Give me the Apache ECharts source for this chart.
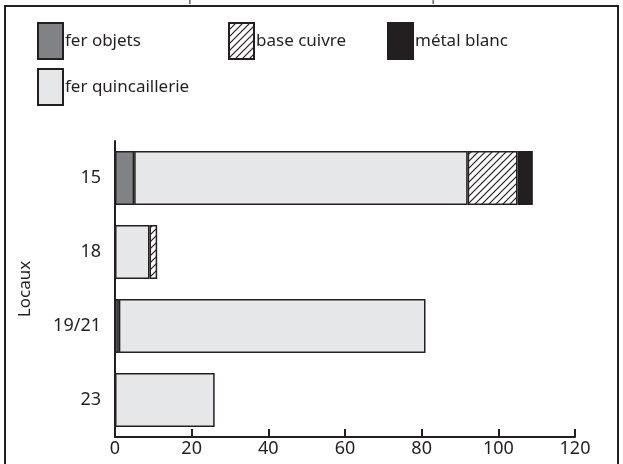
<!DOCTYPE html>
<html><head><meta charset="utf-8">
<script src="https://cdn.jsdelivr.net/npm/echarts@6/dist/echarts.min.js"></script>
<style>html,body{margin:0;padding:0;background:#fff}#c{width:623px;height:464px}</style>
</head><body><div id="c"></div>
<script>
const categories = ['15', '18', '19/21', '23'];
const ferObjets = [5, 0, 1, 0];
const ferQuincaillerie = [87, 9, 80, 26];
const baseCuivre = [13, 2, 0, 0];
const metalBlanc = [4, 0, 0, 0];
const xTicks = [0, 20, 40, 60, 80, 100, 120];
const title = 'Répartition du mobilier métallique';

function hatch() {
  const s = 7;
  const c = document.createElement('canvas');
  c.width = s; c.height = s;
  const g = c.getContext('2d');
  g.fillStyle = '#fff'; g.fillRect(0, 0, s, s);
  g.strokeStyle = '#231f20'; g.lineWidth = 1.2;
  g.beginPath();
  g.moveTo(-1, s + 1); g.lineTo(s + 1, -1);
  g.moveTo(-1, 1); g.lineTo(1, -1);
  g.moveTo(s - 1, s + 1); g.lineTo(s + 1, s - 1);
  g.stroke();
  return c;
}
const hatchPattern = { image: hatch(), repeat: 'repeat' };
const FONT = 'Noto Sans';
const border = { borderColor: '#231f20', borderWidth: 1.5 };

function leg(name, left, top) {
  return {
    data: [{ name: name, icon: 'rect' }], left: left, top: top, orient: 'horizontal',
    itemWidth: 25, itemHeight: 36, padding: 0, itemGap: 0,
    selectedMode: false,
    textStyle: { fontFamily: FONT, fontSize: 17, color: '#231f20', padding: [0, 0, 0, -3] }
  };
}

const chart = echarts.init(document.getElementById('c'), null, { renderer: 'canvas' });
chart.setOption({
  animation: false,
  backgroundColor: '#fff',
  textStyle: { fontFamily: FONT },
  graphic: [
    { type: 'rect', shape: { x: 5, y: 6, width: 613, height: 470 }, style: { fill: 'none', stroke: '#231f20', lineWidth: 2 }, z: 10 },
    { type: 'text', left: 'center', top: -14, style: { text: title, font: '18px "Noto Sans"', fill: '#6d6e71' }, z: 5 }
  ],
  legend: [
    leg('fer objets', 37, 22),
    leg('base cuivre', 228, 22),
    leg('métal blanc', 387, 22),
    leg('fer quincaillerie', 37, 68)
  ],
  grid: { left: 115, right: 48, top: 141, bottom: 27, containLabel: false },
  xAxis: {
    type: 'value', min: 0, max: 120, interval: 20,
    axisLine: { show: true, lineStyle: { color: '#231f20', width: 2 } },
    axisTick: { show: true, inside: true, length: 8, lineStyle: { color: '#231f20', width: 2 } },
    axisLabel: { fontFamily: FONT, fontSize: 18, color: '#231f20', margin: 3,
      formatter: v => xTicks.includes(v) ? String(v) : '' },
    splitLine: { show: false }
  },
  yAxis: {
    type: 'category', data: categories, inverse: true,
    name: 'Locaux', nameLocation: 'middle', nameGap: 81, nameRotate: 90,
    nameTextStyle: { fontFamily: FONT, fontSize: 17, color: '#231f20' },
    axisLine: { show: true, lineStyle: { color: '#231f20', width: 2 } },
    axisTick: { show: false },
    axisLabel: { fontFamily: FONT, fontSize: 18, color: '#231f20', margin: 14 }
  },
  series: [
    { name: 'fer objets', type: 'bar', stack: 'a', data: ferObjets, barCategoryGap: '27%',
      itemStyle: Object.assign({ color: '#808285' }, border) },
    { name: 'fer quincaillerie', type: 'bar', stack: 'a', data: ferQuincaillerie,
      itemStyle: Object.assign({ color: '#e6e7e8' }, border) },
    { name: 'base cuivre', type: 'bar', stack: 'a', data: baseCuivre,
      itemStyle: Object.assign({ color: hatchPattern }, border) },
    { name: 'métal blanc', type: 'bar', stack: 'a', data: metalBlanc,
      itemStyle: Object.assign({ color: '#231f20' }, border) }
  ].map(s => Object.assign(s, { data: s.data.map(v => v === 0 ? null : v) }))
});
</script></body></html>
